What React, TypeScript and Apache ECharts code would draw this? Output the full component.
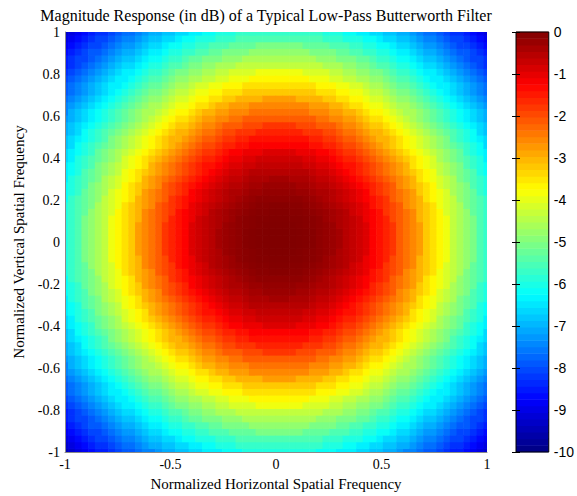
import React, { useEffect, useRef } from "react";
import * as echarts from "echarts";

const TITLE = "Magnitude Response (in dB) of a Typical Low-Pass Butterworth Filter";
const X_NAME = "Normalized Horizontal Spatial Frequency";
const Y_NAME = "Normalized Vertical Spatial Frequency";

// Radial profile: magnitude (dB) at radius 0, 0.025, 0.05, ... (normalized units)
const PROFILE_STEP = 0.025;
const profileDb = [
  0, 0, 0, -0.01, -0.02, -0.04, -0.07, -0.1, -0.15, -0.21,
  -0.27, -0.35, -0.44, -0.54, -0.66, -0.78, -0.92, -1.07, -1.23, -1.4,
  -1.57, -1.76, -1.95, -2.15, -2.36, -2.57, -2.78, -3.0, -3.22, -3.45,
  -3.68, -3.9, -4.13, -4.36, -4.59, -4.82, -5.05, -5.28, -5.5, -5.73,
  -5.95, -6.17, -6.39, -6.61, -6.83, -7.04, -7.25, -7.46, -7.67, -7.87,
  -8.08, -8.28, -8.48, -8.67, -8.87, -9.06, -9.25, -9.43,
];

const CELLS = 64; // image samples per side
const X_TICK_STEP = 0.5;
const Y_TICK_STEP = 0.2;
const CBAR_MIN = -10;
const CBAR_MAX = 0;
const CBAR_LEVELS = 64;

const JET = ["#000080", "#0000FF", "#0080FF", "#00FFFF", "#80FF80", "#FFFF00", "#FF8000", "#FF0000", "#800000"];

function lookupDb(r: number): number {
  let idx = Math.round(r / PROFILE_STEP);
  if (idx < 0) idx = 0;
  if (idx > profileDb.length - 1) idx = profileDb.length - 1;
  return profileDb[idx];
}

function buildCells(): number[][] {
  const out: number[][] = [];
  const half = CELLS / 2;
  for (let i = 0; i < CELLS; i++) {
    for (let j = 0; j < CELLS; j++) {
      const fx = (i - half) / half;
      const fy = (j - half) / half;
      const r = Math.sqrt(fx * fx + fy * fy);
      const x = -1 + (i * 2) / (CELLS - 1);
      const y = -1 + (j * 2) / (CELLS - 1);
      out.push([x, y, lookupDb(r)]);
    }
  }
  return out;
}

const SERIF = "Liberation Serif";
const SANS = "Liberation Sans";

export default function App() {
  const ref = useRef<HTMLDivElement>(null);
  useEffect(() => {
    if (!ref.current) return;
    const chart = echarts.init(ref.current, undefined, { renderer: "svg" });
    const HALF = 1 / (CELLS - 1);
    const option: any = {
      animation: false,
      backgroundColor: "#ffffff",
      title: {
        text: TITLE,
        left: 261,
        top: 2,
        textAlign: "center",
        textStyle: { fontFamily: SERIF, fontSize: 16, fontWeight: "normal", color: "#000" },
      },
      grid: [
        { left: 65, top: 32, width: 422, height: 420, containLabel: false },
        { left: 516, top: 32, width: 38, height: 420, containLabel: false },
      ],
      visualMap: {
        type: "continuous",
        show: false,
        min: CBAR_MIN,
        max: CBAR_MAX,
        dimension: 2,
        seriesIndex: 0,
        inRange: { color: JET },
      },
      xAxis: [
        {
          type: "value",
          gridIndex: 0,
          min: -1,
          max: 1,
          interval: X_TICK_STEP,
          z: 10,
          axisLine: { show: true, onZero: false, lineStyle: { color: "#8a8a8a", width: 1 } },
          axisTick: { show: false },
          splitLine: { show: false },
          axisLabel: { fontFamily: SERIF, fontSize: 14, color: "#000", margin: 5 },
          name: X_NAME,
          nameLocation: "middle",
          nameGap: 24,
          nameTextStyle: { fontFamily: SERIF, fontSize: 15, color: "#000" },
        },
        { type: "value", gridIndex: 1, min: 0, max: 1, show: false },
      ],
      yAxis: [
        {
          type: "value",
          gridIndex: 0,
          min: -1,
          max: 1,
          interval: Y_TICK_STEP,
          z: 10,
          axisLine: { show: true, onZero: false, lineStyle: { color: "#8a8a8a", width: 1 } },
          axisTick: { show: false },
          splitLine: { show: false },
          axisLabel: { fontFamily: SERIF, fontSize: 14, color: "#000", margin: 5 },
          name: Y_NAME,
          nameLocation: "middle",
          nameGap: 38,
          nameTextStyle: { fontFamily: SERIF, fontSize: 15, color: "#000" },
        },
        {
          type: "value",
          gridIndex: 1,
          position: "right",
          min: CBAR_MIN,
          max: CBAR_MAX,
          interval: 1,
          z: 10,
          axisLine: { show: false },
          axisTick: { show: true, inside: true, length: 4, lineStyle: { color: "#000" } },
          splitLine: { show: false },
          axisLabel: { fontFamily: SANS, fontSize: 14, color: "#000", margin: 5 },
        },
        {
          type: "value",
          gridIndex: 1,
          position: "left",
          min: CBAR_MIN,
          max: CBAR_MAX,
          interval: 1,
          z: 10,
          axisLine: { show: false },
          axisTick: { show: true, inside: true, length: 4, lineStyle: { color: "#000" } },
          splitLine: { show: false },
          axisLabel: { show: false },
        },
      ],
      series: [
        {
          type: "custom",
          xAxisIndex: 0,
          yAxisIndex: 0,
          data: buildCells(),
          renderItem: (params: any, api: any) => {
            const x = api.value(0);
            const y = api.value(1);
            const p1 = api.coord([x - HALF, y + HALF]);
            const p2 = api.coord([x + HALF, y - HALF]);
            const cs = params.coordSys;
            const shape = echarts.graphic.clipRectByRect(
              { x: p1[0] - 0.3, y: p1[1] - 0.3, width: p2[0] - p1[0] + 0.6, height: p2[1] - p1[1] + 0.6 },
              { x: cs.x, y: cs.y, width: cs.width, height: cs.height }
            );
            if (!shape) return null;
            return { type: "rect", shape, style: { fill: api.visual("color"), stroke: null } };
          },
        },
        {
          type: "custom",
          xAxisIndex: 1,
          yAxisIndex: 1,
          data: [[0]],
          renderItem: (params: any, api: any) => {
            const children: any[] = [];
            const step = (CBAR_MAX - CBAR_MIN) / CBAR_LEVELS;
            for (let k = 0; k < CBAR_LEVELS; k++) {
              const v0 = CBAR_MIN + k * step;
              const a = api.coord([0, v0 + step]);
              const b = api.coord([1, v0]);
              children.push({
                type: "rect",
                shape: { x: a[0], y: a[1] - 0.3, width: b[0] - a[0], height: b[1] - a[1] + 0.6 },
                style: { fill: echarts.color.lerp((k + 0.5) / CBAR_LEVELS, JET) },
              });
            }
            const t = api.coord([0, CBAR_MAX]);
            const bt = api.coord([1, CBAR_MIN]);
            children.push({
              type: "rect",
              shape: { x: t[0], y: t[1], width: bt[0] - t[0], height: bt[1] - t[1] },
              style: { fill: "none", stroke: "#000", lineWidth: 1 },
            });
            return { type: "group", children };
          },
        },
      ],
    };
    chart.setOption(option);
    return () => chart.dispose();
  }, []);
  return (
    <div
      ref={ref}
      style={{ position: "fixed", left: 0, top: 0, width: 577, height: 496, background: "#fff" }}
    />
  );
}
